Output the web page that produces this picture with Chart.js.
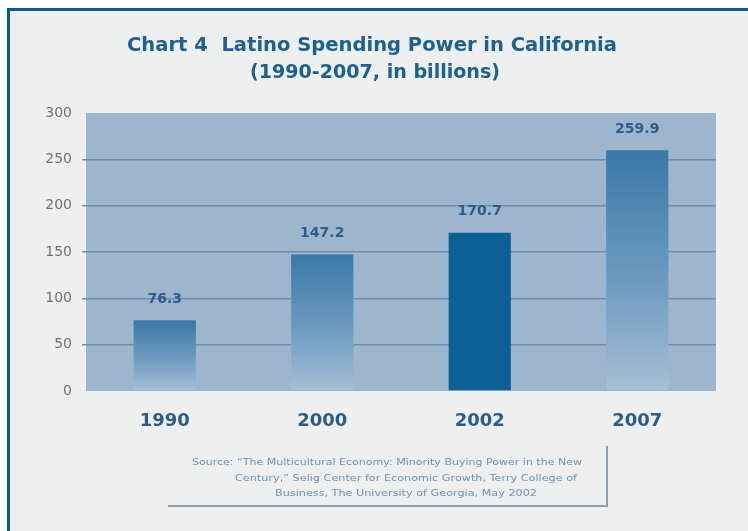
<!DOCTYPE html>
<html>
<head>
<meta charset="utf-8">
<script src="https://cdn.jsdelivr.net/npm/chart.js@4.4.0/dist/chart.umd.min.js"></script>
<style>
  html, body { margin: 0; padding: 0; background: #ffffff; }
  #wrap { width: 748px; height: 531px; }
</style>
</head>
<body>
<div id="wrap"><canvas id="spending" width="748" height="531"></canvas></div>
<script>
// years on the x axis
const years = ["1990", "2000", "2002", "2007"];
// spending power, billions of dollars
const spending = [76.3, 147.2, 170.7, 259.9];
// y axis ticks
const yTicks = [0, 50, 100, 150, 200, 250, 300];

const titleLines = ["Chart 4  Latino Spending Power in California", "(1990-2007, in billions)"];
const sourceLines = [
    "Source: \u201cThe Multicultural Economy: Minority Buying Power in the New",
    "Century,\u201d Selig Center for Economic Growth, Terry College of",
    "Business, The University of Georgia, May 2002"
];

// 2002 is the highlighted, solid bar
const highlight = "2002";

const FONT = '"DejaVu Sans", "Liberation Sans", Arial, sans-serif';

// draw text squeezed/stretched to a given width (the scan is wider than normal type)
function fitText(c, text, cx, y, w) {
    const m = c.measureText(text).width;
    c.save();
    c.translate(cx, y);
    c.scale(w / m, 1);
    c.fillText(text, 0, 0);
    c.restore();
}

// background frame, plot fill, title and source box
const decor = {
    id: 'decor',
    beforeDraw(chart) {
        const c = chart.ctx, a = chart.chartArea;
        c.save();
        c.fillStyle = '#ffffff';
        c.fillRect(0, 0, chart.width, chart.height);
        c.fillStyle = '#eef0f0';
        c.fillRect(8, 9, chart.width - 8, chart.height - 9);
        c.fillStyle = '#0f5a8e';
        c.fillRect(7, 8, chart.width - 7, 3);
        c.fillRect(7, 8, 3, chart.height - 8);
        // plot area
        c.fillStyle = '#9db6ce';
        c.fillRect(a.left, a.top, a.right - a.left, a.bottom - a.top);
        // title
        c.fillStyle = '#1d6190';
        c.textAlign = 'center';
        c.textBaseline = 'alphabetic';
        c.font = 'bold 19px ' + FONT;
        fitText(c, titleLines[0], 372, 51, 490);
        fitText(c, titleLines[1], 375, 78, 250);
        // source box shadow lines
        c.strokeStyle = '#8d9eb0';
        c.lineWidth = 2;
        c.beginPath();
        c.moveTo(168, 506);
        c.lineTo(607, 506);
        c.lineTo(607, 446);
        c.stroke();
        c.fillStyle = '#6d92b8';
        c.font = '9px ' + FONT;
        fitText(c, sourceLines[0], 387, 465, 390);
        fitText(c, sourceLines[1], 406, 481, 342);
        fitText(c, sourceLines[2], 406, 496, 262);
        c.restore();
    },
    afterDatasetsDraw(chart) {
        const c = chart.ctx;
        const meta = chart.getDatasetMeta(0);
        c.save();
        c.fillStyle = '#2b5e8a';
        c.textAlign = 'center';
        c.textBaseline = 'middle';
        c.font = 'bold 14px ' + FONT;
        meta.data.forEach((bar, i) => {
            c.fillText(spending[i].toFixed(1), bar.x, bar.y - 21);
        });
        c.restore();
    }
};

function barFill(ctx) {
    const chart = ctx.chart;
    if (!chart.chartArea) return '#3a77a5';
    if (years[ctx.dataIndex] === highlight) return '#0b6096';
    const y = chart.scales.y;
    const top = y.getPixelForValue(spending[ctx.dataIndex]);
    const base = y.getPixelForValue(0);
    const g = chart.ctx.createLinearGradient(0, top, 0, base);
    g.addColorStop(0, '#3a78a7');
    g.addColorStop(0.55, '#6e9bc0');
    g.addColorStop(1, '#a6bfd5');
    return g;
}

const canvas = document.getElementById("spending");

new Chart(canvas, {
    type: 'bar',
    data: {
        labels: years,
        datasets: [{
            label: 'Spending power',
            data: spending,
            backgroundColor: barFill,
            borderWidth: 0,
            barPercentage: 0.395,
            categoryPercentage: 1
        }]
    },
    options: {
        responsive: false,
        animation: false,
        layout: { padding: { left: 0, top: 113, right: 32, bottom: 0 } },
        plugins: {
            legend: { display: false },
            tooltip: { enabled: false }
        },
        scales: {
            x: {
                grid: { display: false, drawTicks: false },
                border: { display: false },
                ticks: {
                    color: '#2a5d8a',
                    padding: 20,
                    font: { family: FONT, size: 18, weight: 'bold' }
                },
                afterFit(scale) { scale.height = 140; }
            },
            y: {
                min: 0,
                max: 300,
                afterBuildTicks(scale) { scale.ticks = yTicks.map(v => ({ value: v })); },
                grid: {
                    color: (ctx) => (ctx.tick && (ctx.tick.value === 0 || ctx.tick.value === 300)) ? 'rgba(0,0,0,0)' : '#6f8ca8',
                    lineWidth: 1.5,
                    tickLength: 4
                },
                border: { display: false },
                ticks: {
                    color: '#727272',
                    padding: 10,
                    font: { family: FONT, size: 14 }
                },
                afterFit(scale) { scale.width = 86; }
            }
        }
    },
    plugins: [decor]
});
</script>
</body>
</html>
